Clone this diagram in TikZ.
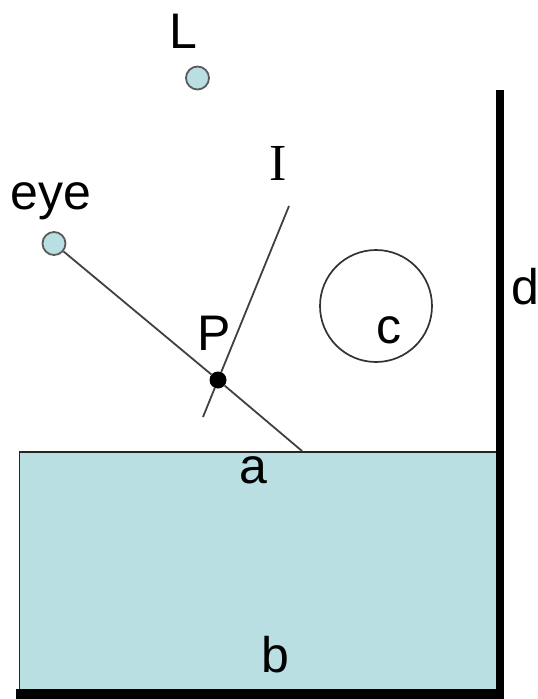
\documentclass[tikz,border=0pt]{standalone}
\usepackage{fontspec}
\setmainfont{Liberation Sans}
\newfontfamily\serifI{Liberation Serif}
\usepackage{xcolor}
\usetikzlibrary{positioning,calc}
\definecolor{scenecyan}{RGB}{185,223,227}
\definecolor{scenegray}{RGB}{90,90,90}
\tikzset{
  lightdot/.style={circle, draw=scenegray, line width=1.8pt, fill=scenecyan, inner sep=0pt, minimum size=23pt},
  hitdot/.style={circle, fill=black, inner sep=0pt, minimum size=17pt},
  lbl/.style={anchor=base, inner sep=0pt, font=\fontsize{50}{50}\selectfont},
  rayline/.style={draw=black!75, line width=1.8pt},
  wall/.style={draw=black, line width=8pt}
}

\begin{document}
\begin{tikzpicture}[x=1pt, y=-1pt]
\useasboundingbox (0,0) rectangle (538,699);

% floor block and walls
\node[draw=black!85, line width=1.6pt, fill=scenecyan, anchor=north west, inner sep=0pt,
      minimum width=478pt, minimum height=238pt] (block) at (18.5,451) {};
\coordinate (walltop) at (500,90);
\coordinate (wallbot) at (500,699);
\coordinate (floorl) at (16,694);
\coordinate (floorr) at (504,694);
\draw[wall] (walltop) -- (wallbot);
\draw[draw=black, line width=10pt] (floorl) -- (floorr);

% sphere
\node[circle, draw=black!80, line width=1.7pt, inner sep=0pt, minimum size=112pt] (ball) at (376,306) {};

% rays through P
\node[hitdot] (P) at (218,380) {};
\node[lightdot] (eyept) at (54,243.5) {};
\node[lightdot] (lightpt) at (197.5,78) {};
\coordinate (raytop) at (289,206);
\coordinate (raybot) at (203,417);
\coordinate (rayend) at (302,451);
\draw[rayline] (eyept) -- (P);
\draw[rayline] (P) -- (rayend);
\draw[rayline] (raytop) -- (P);
\draw[rayline] (P) -- (raybot);

% labels
\node[lbl] (lblL) at (183,48) {L};
\node[lbl] (lbleye) at (51,209) {eye};
\node[lbl, font=\fontsize{52}{52}\serifI] (lblI) at (278,180) {I};
\node[lbl] (lblP) at (214,350) {P};
\node[lbl] (lblc) at (389,343) {c};
\node[lbl] (lbla) at (253,483) {a};
\node[lbl] (lblb) at (275,672) {b};
\node[lbl] (lbld) at (525,304) {d};

\end{tikzpicture}
\end{document}
